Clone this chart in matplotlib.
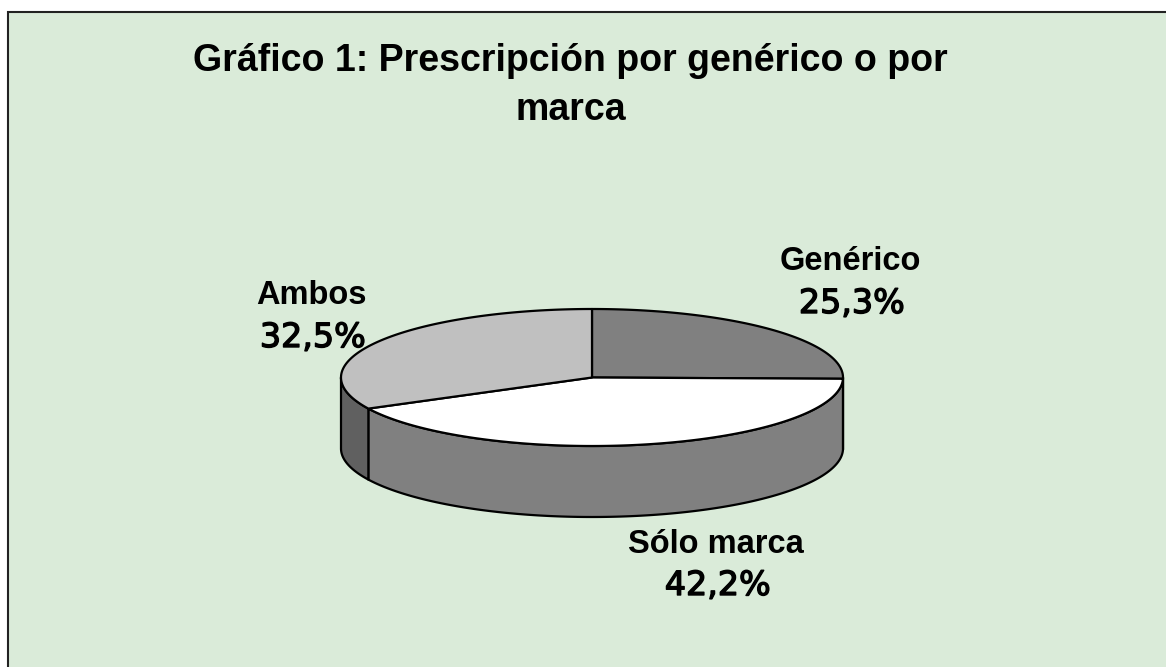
import numpy as np
import matplotlib
matplotlib.use("Agg")
import matplotlib.pyplot as plt
import matplotlib.patheffects as pe
from matplotlib.patches import Polygon, Rectangle

# Data
categories = ["Genérico", "Sólo marca", "Ambos"]
values = [25.3, 42.2, 32.5]
value_labels = ["25,3%", "42,2%", "32,5%"]
title_lines = ["Gráfico 1: Prescripción por genérico o por", "marca"]

top_colors = ["#808080", "#FFFFFF", "#C0C0C0"]
side_colors = ["#808080", "#808080", "#606060"]
background = "#DAEBD9"

# pie geometry, in pixels of the 1166x667 picture
cx, cy = 592, 377.5
rx, ry = 251, 68.5
depth = 71


def rim(a0, a1, dy=0):
    # angles clockwise from the top of the pie, in degrees
    t = np.radians(np.linspace(a0, a1, 200))
    return np.column_stack((cx + rx * np.sin(t), cy - ry * np.cos(t) + dy))


plt.rcParams["font.family"] = "Liberation Sans"

fig = plt.figure(figsize=(11.66, 6.67), dpi=100)
ax = fig.add_axes([0, 0, 1, 1])
ax.set_xlim(0, 1166)
ax.set_ylim(667, 0)
ax.axis("off")

ax.add_patch(Rectangle((8, 12), 1170, 670, facecolor=background, edgecolor="#222222", linewidth=1.5))

edges = np.concatenate(([0], np.cumsum(values))) * 3.6

# side walls, only the part facing the viewer (90 to 270 degrees)
for i in range(len(values)):
    a0 = max(edges[i], 90)
    a1 = min(edges[i + 1], 270)
    if a1 <= a0:
        continue
    wall = np.vstack((rim(a0, a1), rim(a0, a1, depth)[::-1]))
    ax.add_patch(Polygon(wall, closed=True, facecolor=side_colors[i], edgecolor="black", linewidth=1.6, joinstyle="round"))

# top face
for i in range(len(values)):
    wedge = np.vstack(([[cx, cy]], rim(edges[i], edges[i + 1])))
    ax.add_patch(Polygon(wedge, closed=True, facecolor=top_colors[i], edgecolor="black", linewidth=1.6, joinstyle="round"))

# title
ax.text(570, 71, title_lines[0], fontsize=27, fontweight="bold", ha="center", va="baseline")
ax.text(571, 120, title_lines[1], fontsize=27, fontweight="bold", ha="center", va="baseline")

# labels: (x, baseline y) for the name and for the value
name_pos = [(850, 270), (716, 553), (311, 304)]
value_pos = [(852, 313), (718, 595), (313, 347)]
thicker = [pe.withStroke(linewidth=1.0, foreground="black")]
for i in range(len(categories)):
    ax.text(name_pos[i][0], name_pos[i][1], categories[i], fontsize=23.5, fontweight="bold", ha="center", va="baseline")
    ax.text(value_pos[i][0], value_pos[i][1], value_labels[i], fontsize=24, family="DejaVu Sans", ha="center", va="baseline", path_effects=thicker)

fig.savefig("out.png", dpi=100)
